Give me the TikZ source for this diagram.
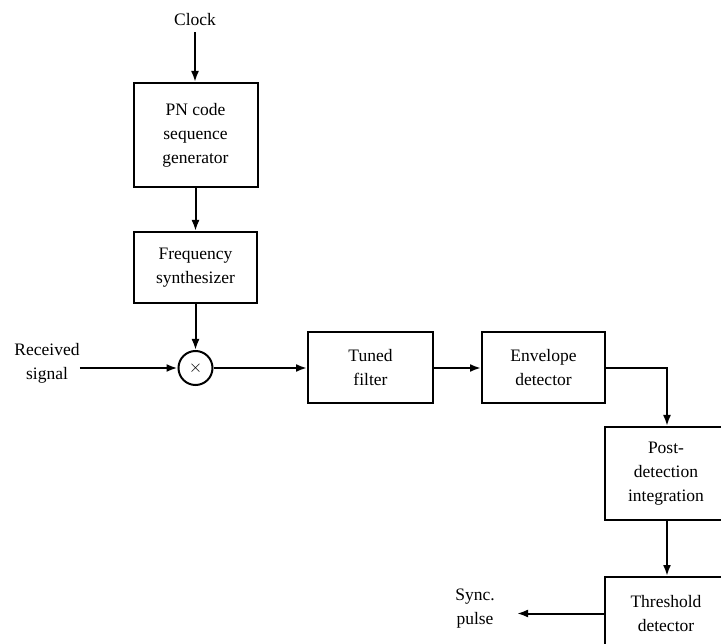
\documentclass[tikz,border=0pt]{standalone}
\usepackage{fontspec}
\setmainfont{Liberation Serif}
\usetikzlibrary{arrows.meta}
\begin{document}
\begin{tikzpicture}[x=1pt,y=-1pt,
  every node/.style={font=\fontsize{17.5}{24}\selectfont, align=center},
  blockbox/.style={draw, line width=2pt, inner sep=0pt},
  wire/.style={line width=2pt},
  arr/.style={wire, -{Latex[length=11pt,width=8pt]}}]
\useasboundingbox (0,0) rectangle (721,644);
\clip (0,0) rectangle (721,644);
\node[inner sep=0pt] (clock) at (195,20) {Clock};
\node[blockbox, minimum width=124pt, minimum height=104pt] (pn) at (195.5,135) {PN code\\sequence\\generator};
\node[blockbox, minimum width=123pt, minimum height=71pt] (fs) at (195.5,267.5) {Frequency\\synthesizer};
\node[draw, circle, line width=2pt, minimum size=34pt, inner sep=0pt, font=\fontsize{18}{18}\selectfont] (mix) at (195.5,368) {$\times$};
\node[inner sep=0pt] (rx) at (47,363) {Received\\signal};
\node[blockbox, minimum width=125pt, minimum height=71pt] (tf) at (370.5,367.5) {Tuned\\filter};
\node[blockbox, minimum width=123pt, minimum height=71pt] (env) at (543.5,367.5) {Envelope\\detector};
\node[blockbox, minimum width=122pt, minimum height=93pt] (pdi) at (666,473.5) {Post-\\detection\\integration};
\node[blockbox, minimum width=122pt, minimum height=73pt] (thr) at (666,613.5) {Threshold\\detector};
\node[inner sep=0pt] (sync) at (475,609) {Sync.\\pulse};
\coordinate (syncend) at (517,613.5);
\coordinate (corner) at (667,368);

\draw[arr] (clock.south) ++(0,6) -- (clock.south |- pn.north);
\draw[arr] (pn.south) -- (fs.north);
\draw[arr] (fs.south) -- (mix.north);
\draw[arr] (rx.east |- mix.west) -- (mix.west);
\draw[arr] (mix.east) -- (tf.west |- mix.east);
\draw[arr] (tf.east |- mix.east) -- (env.west |- mix.east);
\draw[arr] (env.east |- corner) -- (corner) -- (corner |- pdi.north);
\draw[arr] (corner |- pdi.south) -- (corner |- thr.north);
\draw[arr] (thr.west) -- (syncend);
\end{tikzpicture}
\end{document}
